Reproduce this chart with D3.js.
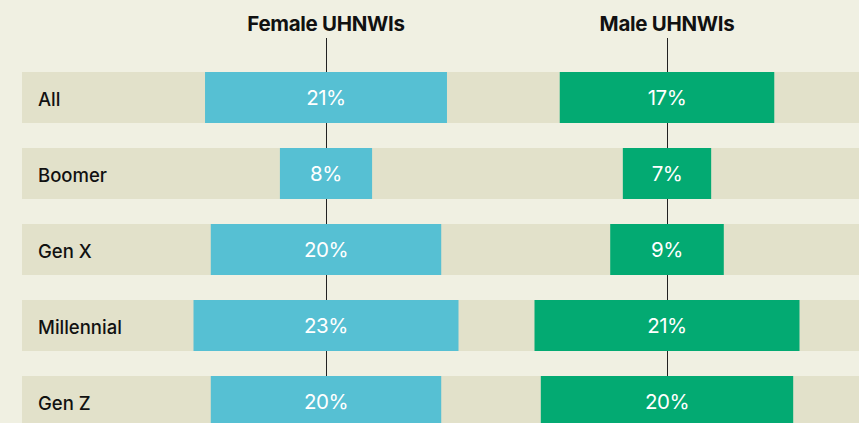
<!DOCTYPE html>
<html>
<head>
<meta charset="utf-8">
<script src="https://cdn.jsdelivr.net/npm/d3@7"></script>
<style>
  body { margin: 0; background: #f0f0e2; }
  svg { display: block; }
  text { font-family: Inter, "Liberation Sans", sans-serif; }
</style>
</head>
<body>
<div id="chart"></div>
<script>
// values
var generations = ["All", "Boomer", "Gen X", "Millennial", "Gen Z"];
var femaleShare = [21, 8, 20, 23, 20];
var maleShare = [17, 7, 9, 21, 20];
var panelTitles = ["Female UHNWIs", "Male UHNWIs"];

var width = 859, height = 423;

var svg = d3.select("#chart")
  .append("svg")
    .attr("width", width)
    .attr("height", height);

// rows every 76px, 51px tall
var y = d3.scaleBand()
    .domain(generations)
    .range([72, 72 + 76 * generations.length - 25])
    .paddingInner(25 / 76)
    .paddingOuter(0);

// each panel is scaled to its own max
var panels = [
  { title: panelTitles[0], values: femaleShare, cx: 326, color: "#56c0d3" },
  { title: panelTitles[1], values: maleShare, cx: 667, color: "#03aa72" }
];
panels.forEach(function(p) {
  p.w = d3.scaleLinear().domain([0, d3.max(p.values)]).range([0, 265]);
});

// row bands
svg.append("g")
  .selectAll("rect")
  .data(generations)
  .enter()
    .append("rect")
    .attr("x", 22)
    .attr("y", function(d) { return y(d); })
    .attr("width", width - 22)
    .attr("height", y.bandwidth())
    .attr("fill", "#e2e1ca");

// row labels
svg.append("g")
  .selectAll("text")
  .data(generations)
  .enter()
    .append("text")
    .attr("x", 38)
    .attr("y", function(d) { return y(d) + y.bandwidth() / 2 + 2; })
    .attr("dy", "0.36em")
    .attr("font-size", 18.5)
    .attr("font-weight", 500)
    .attr("fill", "#111")
    .text(function(d) { return d; });

panels.forEach(function(p) {
  var g = svg.append("g");

  g.append("line")
    .attr("x1", p.cx + 0.5).attr("x2", p.cx + 0.5)
    .attr("y1", 38).attr("y2", height)
    .attr("stroke", "#222")
    .attr("stroke-width", 1);

  g.append("text")
    .attr("x", p.cx)
    .attr("y", 31)
    .attr("text-anchor", "middle")
    .attr("font-size", 20.5)
    .attr("font-weight", 700)
    .attr("letter-spacing", -0.3)
    .attr("fill", "#111")
    .text(p.title);

  g.selectAll("rect")
    .data(p.values)
    .enter()
      .append("rect")
      .attr("x", function(d) { return p.cx - p.w(d) / 2; })
      .attr("y", function(d, i) { return y(generations[i]); })
      .attr("width", function(d) { return p.w(d); })
      .attr("height", y.bandwidth())
      .attr("fill", p.color);

  g.selectAll("text.val")
    .data(p.values)
    .enter()
      .append("text")
      .attr("class", "val")
      .attr("x", p.cx)
      .attr("y", function(d, i) { return y(generations[i]) + y.bandwidth() / 2; })
      .attr("dy", "0.36em")
      .attr("text-anchor", "middle")
      .attr("font-size", 20.5)
      .attr("letter-spacing", -0.5)
      .attr("fill", "#fff")
      .text(function(d) { return d + "%"; });
});
</script>
</body>
</html>
